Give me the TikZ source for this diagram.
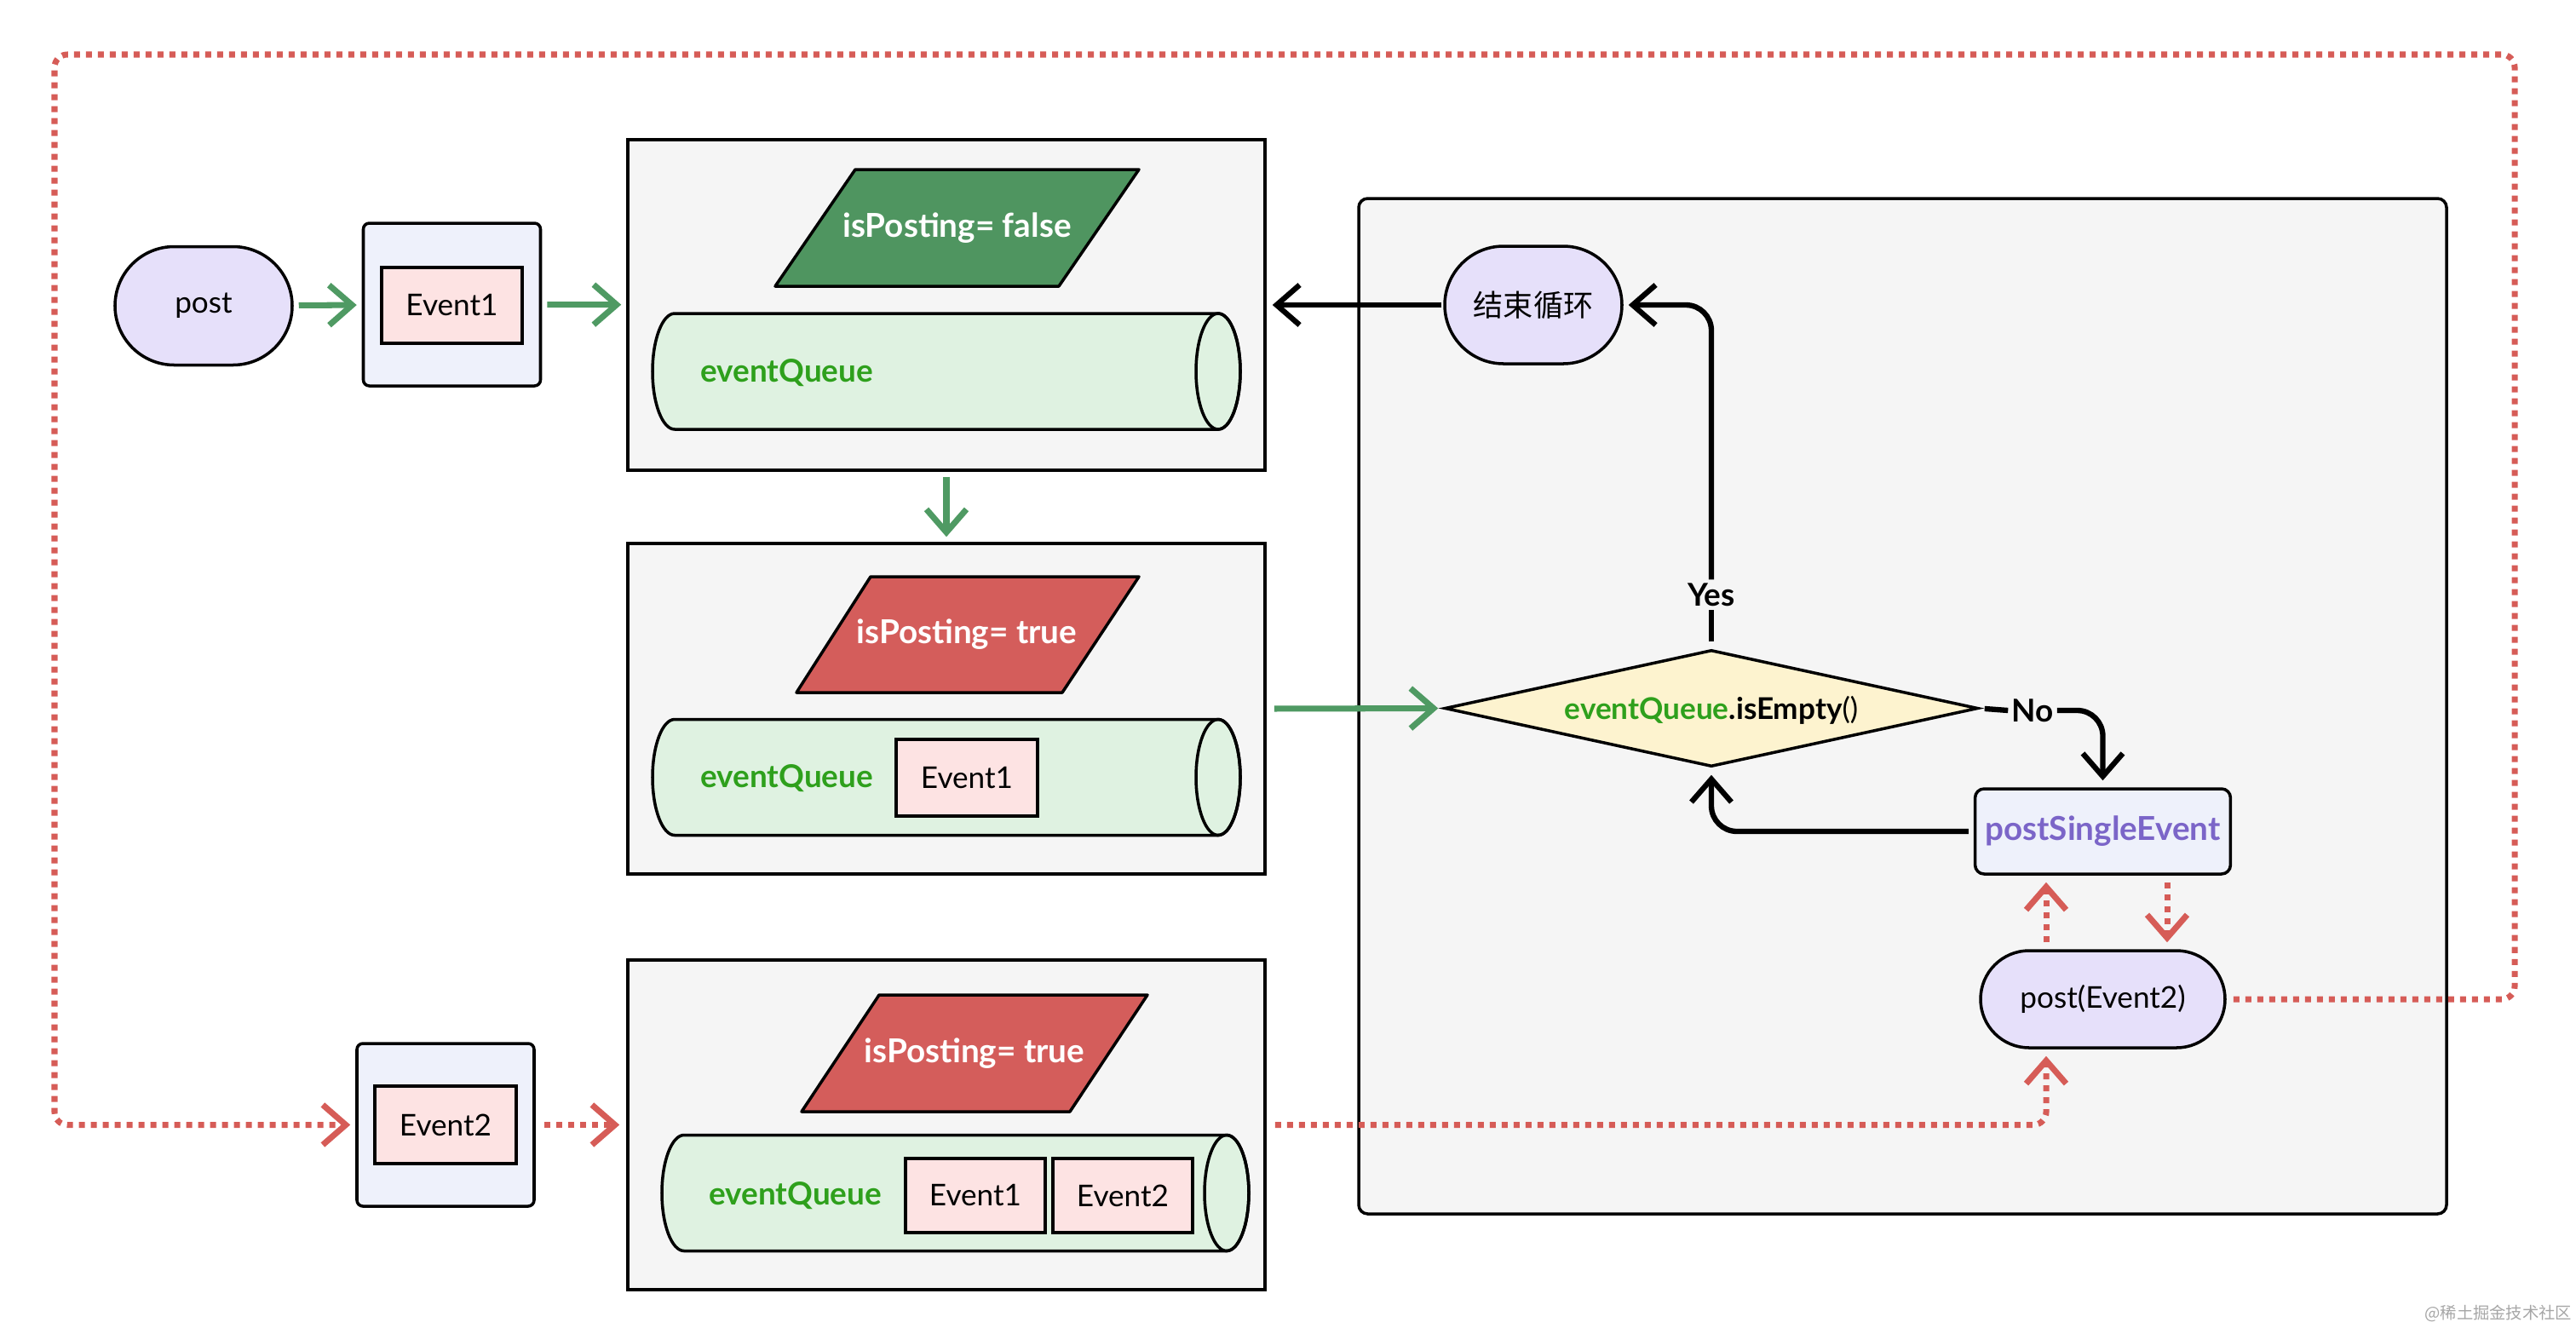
\documentclass[tikz,border=0pt]{standalone}
\usepackage{fontspec}
\setmainfont{Lato}
\newfontfamily\cjk{Noto Sans CJK SC}
\usetikzlibrary{arrows.meta,shapes.geometric,shapes.misc}
\definecolor{gArrow}{HTML}{4F9A63}
\definecolor{gPara}{HTML}{4F9560}
\definecolor{rPara}{HTML}{D45D5B}
\definecolor{rLine}{HTML}{D65C57}
\definecolor{cylFill}{HTML}{DFF2E1}
\definecolor{panel}{HTML}{F5F5F5}
\definecolor{lav}{HTML}{E6E0FA}
\definecolor{evOut}{HTML}{EEF1FB}
\definecolor{evIn}{HTML}{FDE3E3}
\definecolor{dia}{HTML}{FDF3CF}
\definecolor{gText}{HTML}{2EA01C}
\definecolor{purp}{HTML}{7B65C8}
\newcommand\mycyl[3]{% x0 x1 yc (cm)
  \path[fill=cylFill,draw=black,line width=1pt]
    (#1+0.26,#3+0.68) -- (#2-0.26,#3+0.68) arc(90:-90:0.26 and 0.68)
    -- (#1+0.26,#3-0.68) arc(270:90:0.26 and 0.68) -- cycle;
  \draw[line width=1pt] (#2-0.26,#3) ellipse (0.26 and 0.68);}
\tikzset{
  every node/.style={font=\fontsize{10}{12}\selectfont},
  tip/.style={-{Straight Barb[length=0.27cm,width=0.47cm]}},
  garr/.style={tip,draw=gArrow,line width=2pt,shorten <=0.06cm,shorten >=0.06cm},
  barr/.style={draw=black,line width=1.8pt},
  rdot/.style={draw=rLine,line width=2pt,dash pattern=on 0.07cm off 0.07cm},
  frame/.style={draw=black,fill=panel,line width=1pt,minimum width=7.48cm,minimum height=3.88cm,inner sep=0},
  stad/.style={rounded rectangle,draw=black,fill=lav,line width=1pt,inner sep=0},
  evout/.style={draw=black,fill=evOut,line width=1pt,rounded corners=2pt,minimum width=2.08cm,minimum height=1.91cm},
  evin/.style={draw=black,fill=evIn,line width=1pt,minimum width=1.65cm,minimum height=0.89cm,inner sep=0},
  eq/.style={anchor=west,text=gText,font=\fontsize{10.5}{12}\selectfont\bfseries},
  ptxt/.style={text=white,font=\fontsize{11}{13}\selectfont\bfseries},
  para/.style={draw=black,line width=1pt,line join=round},
}
\begin{document}
\begin{tikzpicture}
\useasboundingbox (0,0) rectangle (30.24,-15.58);
% panel
\path[draw=black,fill=panel,line width=1pt,rounded corners=3pt] (15.95,-2.33) rectangle (28.72,-14.25);
% left chain
\node[stad,minimum width=2.08cm,minimum height=1.39cm] (post) at (2.39,-3.59) {post};
\node[evout] (eb1) at (5.305,-3.575) {};
\node[evin] (e1) at (5.305,-3.585) {Event1};
\node[frame] (box1) at (11.11,-3.58) {};
\node[frame] (box2) at (11.11,-8.32) {};
\node[frame,minimum height=3.87cm] (box3) at (11.11,-13.205) {};
% box1 content
\path[para,fill=gPara] (10.04,-1.99) -- (13.37,-1.99) -- (12.43,-3.36) -- (9.10,-3.36) -- cycle;
\node[ptxt] (p1) at (11.235,-2.675) {isPosting= false};
\mycyl{7.66}{14.56}{-4.36}
\node[eq] (q1) at (8.10,-4.38) {eventQueue};
% box2 content
\path[para,fill=rPara] (10.22,-6.77) -- (13.37,-6.77) -- (12.47,-8.13) -- (9.35,-8.13) -- cycle;
\node[ptxt] (p2) at (11.35,-7.45) {isPosting= true};
\mycyl{7.66}{14.56}{-9.125}
\node[eq] (q2) at (8.10,-9.14) {eventQueue};
\node[evin,minimum width=1.66cm,minimum height=0.90cm] (e1b) at (11.35,-9.13) {Event1};
% box3 content
\path[para,fill=rPara] (10.32,-11.68) -- (13.47,-11.68) -- (12.56,-13.05) -- (9.41,-13.05) -- cycle;
\node[ptxt] (p3) at (11.44,-12.365) {isPosting= true};
\mycyl{7.77}{14.66}{-14.005}
\node[eq] (q3) at (8.20,-14.04) {eventQueue};
\node[evin,minimum width=1.64cm,minimum height=0.87cm] (e1c) at (11.45,-14.035) {Event1};
\node[evin,minimum width=1.64cm,minimum height=0.87cm] (e2c) at (13.18,-14.035) {Event2};
% event2 box
\node[evout] (eb2) at (5.23,-13.205) {};
\node[evin,minimum width=1.66cm,minimum height=0.91cm] (e2) at (5.23,-13.205) {Event2};
% right side
\node[stad,minimum width=2.08cm,minimum height=1.38cm] (end) at (18.00,-3.58) {\cjk 结束循环};
\node[diamond,draw=black,fill=dia,line width=1pt,minimum width=6.26cm,minimum height=1.37cm,inner sep=0] (dm) at (20.09,-8.315) {};
\node[font=\fontsize{10}{12}\selectfont\bfseries] (dmt) at (20.09,-8.34) {\textcolor{gText}{eventQueue}.isEmpty\textmd{()}};
\node[draw=black,fill=evOut,line width=1pt,rounded corners=3pt,minimum width=2.87cm,minimum height=1.00cm,text=purp,font=\fontsize{11}{13}\selectfont\bfseries] (pse) at (24.685,-9.76) {postSingleEvent};
\node[stad,minimum width=2.87cm,minimum height=1.14cm] (pe2) at (24.685,-11.73) {post(Event2)};
\node[fill=panel,inner sep=1pt,font=\fontsize{10.5}{12}\selectfont\bfseries] (yes) at (20.09,-6.98) {Yes};
\node[fill=panel,inner sep=1pt,font=\fontsize{10.5}{12}\selectfont\bfseries] (no) at (23.86,-8.34) {No};
\node[anchor=east,text=gray!70,inner sep=0,font=\fontsize{5.5}{6}\selectfont\cjk] (wm) at (30.20,-15.42) {@稀土掘金技术社区};
% green connectors
\draw[garr] (post) -- (eb1);
\draw[garr] (eb1) -- (box1);
\draw[garr] (box1) -- (box2);
\draw[garr,shorten <=0.09cm] (box2.east) -- (dm.west);
% black connectors
\draw[barr,tip,shorten >=0.07cm,shorten <=0.02cm] (end.west) -- (box1.east);
\draw[barr,shorten <=0.08cm] (dm.north) -- (yes.south);
\draw[barr,tip,rounded corners=0.3cm,shorten >=0.06cm] (yes.north) -- (20.09,-3.58) -- (end.east);
\draw[barr,shorten <=0.06cm] (dm.east) -- (no.west);
\draw[barr,tip,rounded corners=0.3cm,shorten >=0.08cm] (no.east) -| (pse.north);
\draw[barr,tip,rounded corners=0.3cm,shorten >=0.08cm,shorten <=0.06cm] (pse.west) -| (dm.south);
% red connectors
\draw[rdot,tip,shorten >=0.08cm,shorten <=0.08cm] ([xshift=-0.665cm]pe2.north) -- ([xshift=-0.665cm]pse.south);
\draw[rdot,tip,shorten >=0.08cm,shorten <=0.08cm] ([xshift=0.755cm]pse.south) -- ([xshift=0.755cm]pe2.north);
\draw[rdot,tip,rounded corners=0.15cm,shorten >=0.08cm,shorten <=0.1cm] (box3.east) -| ([xshift=-0.665cm]pe2.south);
\draw[rdot,tip,rounded corners=0.15cm,shorten >=0.06cm,shorten <=0.08cm] (pe2.east) -- (29.52,-11.73) -- (29.52,-0.64) -- (0.64,-0.64) -- (0.64,-13.205) -- (eb2.west);
\draw[rdot,tip,shorten >=0.08cm,shorten <=0.1cm] (eb2.east) -- (box3.west);
\end{tikzpicture}
\end{document}
